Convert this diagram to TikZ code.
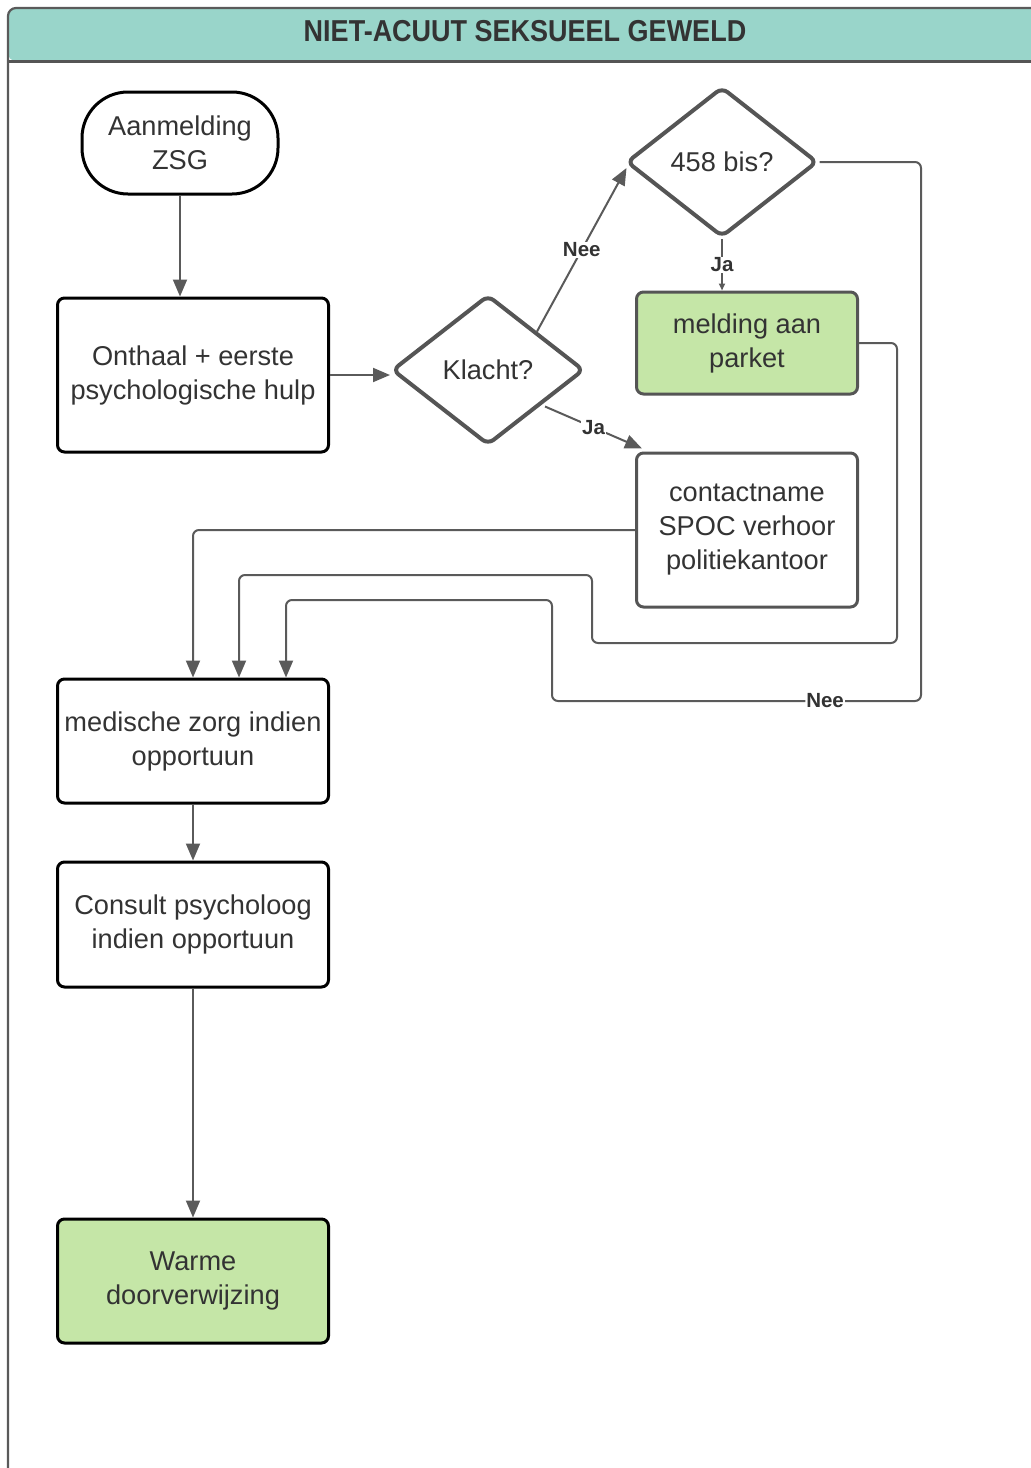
\documentclass[tikz,border=0pt]{standalone}
\usepackage{fontspec}
\setmainfont{Liberation Sans}
\usetikzlibrary{shapes.geometric,arrows.meta,calc}
\definecolor{hdr}{HTML}{99D5CA}
\definecolor{grn}{HTML}{C5E6A7}
\definecolor{txt}{HTML}{333333}
\definecolor{ln}{HTML}{5A5A5A}
\definecolor{bd}{HTML}{555555}
\newcommand\boxfont{\fontsize{27.2}{34}\selectfont}
\newcommand\lblfont{\fontsize{20.5}{22}\selectfont\bfseries}
\begin{document}
\begin{tikzpicture}[x=1pt,y=-1pt,
  box/.style={draw=black, line width=3pt, rounded corners=7pt, fill=white,
    align=center, text=txt, font=\boxfont, inner sep=0pt,
    minimum width=271pt},
  rbox/.style={box, draw=bd, minimum width=221pt},
  dia/.style={diamond, draw=bd, line width=4pt, rounded corners=7pt,
    fill=white, text=txt, font=\boxfont, inner sep=0pt, aspect=1.28},
  lbl/.style={fill=white, font=\lblfont, text=txt, inner sep=1pt},
  arr/.style={draw=ln, line width=2pt, -{Triangle[length=17pt,width=14pt]}},
  arrs/.style={draw=ln, line width=2pt, -{Triangle[length=7pt,width=6pt]}},
  conn/.style={arr, rounded corners=6pt}
]
\clip (0,0) rectangle (1031,1468);
\useasboundingbox (0,0) rectangle (1031,1468);
% frame and header
\fill[hdr, rounded corners=8pt] (8,61) -- (8,8) -- (1060,8) -- (1060,61) -- cycle;
\draw[bd, line width=3pt] (8,61) -- (1060,61);
\draw[ln, line width=2.2pt, rounded corners=8pt] (8,1500) -- (8,8) -- (1060,8);
\node[font=\fontsize{27}{30}\selectfont\bfseries, text=txt, yscale=1.12] (title) at (525,31) {NIET-ACUUT SEKSUEEL GEWELD};

% nodes
\node[box, rounded corners=46pt, minimum width=196pt, minimum height=102pt] (start) at (180,143) {Aanmelding\\ZSG};
\node[box, minimum height=154pt] (onthaal) at (193,375) {Onthaal + eerste\\psychologische hulp};
\node[dia, minimum width=192pt, minimum height=150pt] (klacht) at (488,370) {Klacht?};
\node[dia, minimum width=191pt, minimum height=150pt] (q2) at (722,162) {458 bis?};
\node[rbox, fill=grn, minimum height=102pt] (melding) at (747,343) {melding aan\\parket};
\node[rbox, minimum height=154pt] (contact) at (747,530) {contactname\\SPOC verhoor\\politiekantoor};
\node[box, minimum height=124pt] (med) at (193,741) {medische zorg indien\\opportuun};
\node[box, minimum height=125pt] (consult) at (193,924.5) {Consult psycholoog\\indien opportuun};
\node[box, fill=grn, minimum height=124pt] (warme) at (193,1281) {Warme\\doorverwijzing};

% connectors
\draw[arr] (start.south) -- (start.south |- onthaal.north);
\draw[arr] (onthaal.east) -- (onthaal.east -| klacht.west);
\draw[arr] (klacht.north east) -- node[lbl]{Nee} ($(q2.west)+(2,6)$);
\draw[arr] ($(klacht.south east)+(8,-2)$) -- node[lbl, pos=0.5]{Ja} ($(contact.north west)+(7,-3)$);
\draw[arrs] (q2.south) -- node[lbl]{Ja} (q2.south |- melding.north);
\draw[conn] (contact.west) -| (med.north);
\draw[conn] (melding.east) -| (897,643) -| (592,575) -| ($(med.north)+(46,0)$);
\draw[conn] (q2.east) -| (921,701) -| node[lbl, pos=0.13]{Nee} (552,600) -| ($(med.north)+(93,0)$);
\draw[arr] (med) -- (consult);
\draw[arr] (consult) -- (warme);
\end{tikzpicture}
\end{document}
